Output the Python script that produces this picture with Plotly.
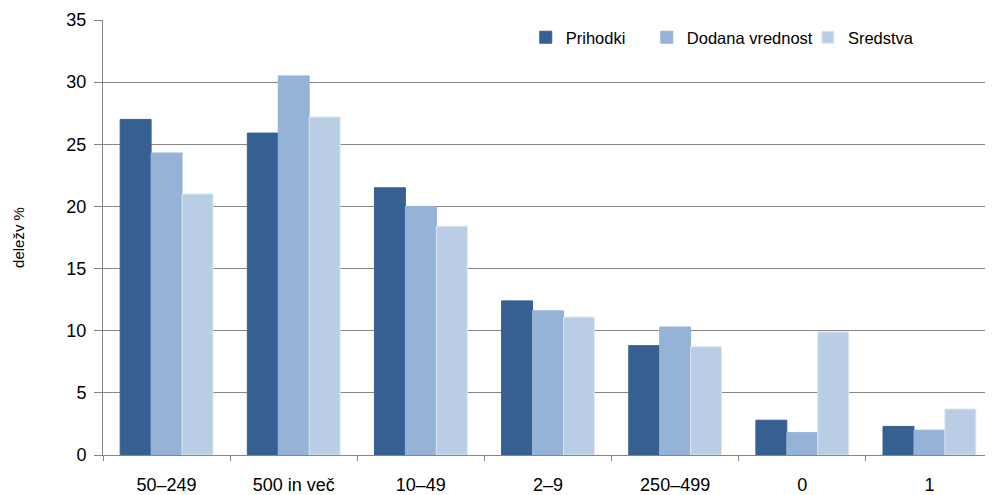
import plotly.graph_objects as go

categories = ["50–249", "500 in več", "10–49", "2–9", "250–499", "0", "1"]
prihodki = [27.0, 25.9, 21.5, 12.4, 8.8, 2.8, 2.3]
dodana = [24.3, 30.5, 20.0, 11.6, 10.3, 1.8, 2.0]
sredstva = [21.0, 27.2, 18.4, 11.1, 8.7, 9.9, 3.7]
y_ticks = [0, 5, 10, 15, 20, 25, 30, 35]

series = [
    ("Prihodki", prihodki, "#376092", "legend", 0.475),
    ("Dodana vrednost", dodana, "#95B3D7", "legend2", 0.611),
    ("Sredstva", sredstva, "#B9CDE5", "legend3", 0.792),
]

fig = go.Figure()
legends = {}
for name, vals, col, leg, lx in series:
    fig.add_trace(go.Bar(
        x=categories, y=vals, name=name, legend=leg,
        marker=dict(color=col, line=dict(color="#DCE6F2" if name == "Sredstva" else col, width=1)),
    ))
    legends[leg] = dict(
        orientation="h", x=lx, xanchor="left", y=1.0, yanchor="top",
        font=dict(size=16.5), bgcolor="rgba(0,0,0,0)",
    )

fig.update_layout(
    width=985, height=487,
    margin=dict(l=95, r=0, t=12, b=37),
    paper_bgcolor="white", plot_bgcolor="white",
    barmode="group", bargap=0.27, bargroupgap=0,
    font=dict(family="Liberation Sans, Arial, sans-serif", size=18, color="#000000"),
    showlegend=True,
    **legends,
)
fig.update_yaxes(
    range=[0, 35], tickvals=y_ticks, showgrid=True, gridcolor="#868686", gridwidth=1,
    showline=True, linecolor="#868686", linewidth=1,
    ticks="outside", ticklen=8, tickcolor="#868686",
    zeroline=False, ticklabelstandoff=4,
    title=dict(text="deležv %", font=dict(size=15), standoff=38),
    tickfont=dict(size=18),
)
fig.update_xaxes(
    type="category", showline=True, linecolor="#868686", linewidth=1,
    ticks="outside", tickson="boundaries", ticklen=5, tickcolor="#868686",
    showgrid=False, tickfont=dict(size=18), ticklabelstandoff=13,
)

fig.write_html("out.html")
